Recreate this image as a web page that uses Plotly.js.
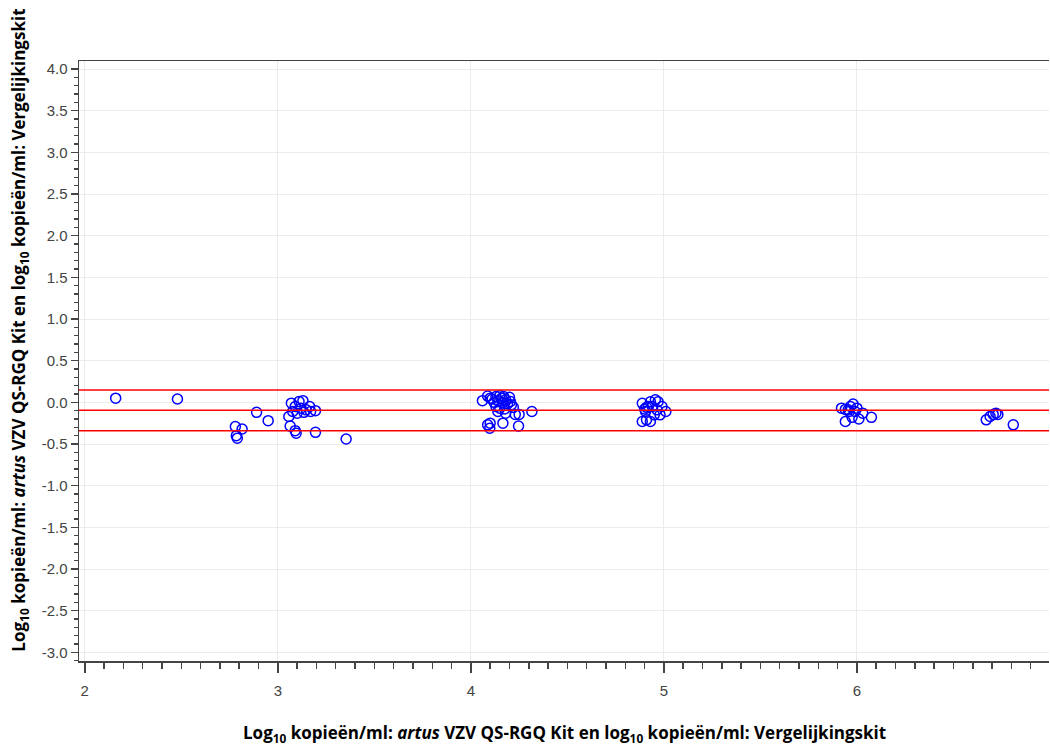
<!DOCTYPE html>
<html>
<head>
<meta charset="utf-8">
<script src="https://cdn.plot.ly/plotly-3.0.1.min.js"></script>
<style>html,body{margin:0;padding:0;background:#fff;}#chart{width:1050px;height:748px;}</style>
</head>
<body>
<div id="chart"></div>
<script>
// Mean of log10 values (x) and difference (y)
var meanLog = [
  2.16, 2.48, 2.78, 2.815, 2.785, 2.79, 2.89, 2.95,
  3.057, 3.064, 3.09, 3.095, 3.195, 3.354, 3.07, 3.11, 3.13, 3.09, 3.12, 3.147, 3.165, 3.195, 3.077, 3.10, 3.17, 3.135,
  4.06, 4.087, 4.11, 4.12, 4.13, 4.14, 4.15, 4.16, 4.165, 4.17, 4.18, 4.19, 4.20, 4.205, 4.21, 4.13, 4.15, 4.22, 4.18, 4.23, 4.25, 4.316, 4.14, 4.087, 4.10, 4.098, 4.166, 4.247, 4.10, 4.175,
  4.888, 4.905, 4.91, 4.888, 4.93, 4.93, 4.956, 4.97, 4.94, 4.964, 4.99, 5.01, 4.98, 4.95, 4.92, 4.91, 4.90,
  5.94, 5.966, 5.98, 5.96, 5.99, 5.94, 5.975, 6.01, 6.03, 6.075, 6.00, 5.92, 5.955,
  6.67, 6.69, 6.706, 6.72, 6.73, 6.81
];
var diffLog = [
  0.05, 0.04, -0.29, -0.32, -0.40, -0.43, -0.12, -0.22,
  -0.17, -0.285, -0.34, -0.37, -0.36, -0.44, -0.01, 0.01, 0.02, -0.05, -0.07, -0.09, -0.05, -0.10, -0.11, -0.13, -0.11, -0.12,
  0.02, 0.075, 0.04, 0.00, 0.07, 0.02, 0.08, 0.05, 0.00, 0.07, 0.03, -0.02, 0.06, 0.01, -0.03, -0.05, -0.07, -0.06, -0.13, -0.145, -0.145, -0.11, -0.11, -0.27, -0.25, -0.31, -0.25, -0.285, 0.05, -0.08,
  -0.012, -0.11, -0.21, -0.23, -0.23, 0.007, 0.03, 0.007, -0.05, -0.09, -0.05, -0.11, -0.15, -0.15, -0.05, -0.06, -0.08,
  -0.085, -0.05, -0.02, -0.11, -0.11, -0.23, -0.18, -0.20, -0.13, -0.18, -0.07, -0.07, -0.09,
  -0.21, -0.17, -0.145, -0.13, -0.145, -0.27
];
// Reference lines: upper limit, mean difference, lower limit
var refLines = [0.148, -0.096, -0.341];

var yTickVals = [4.0, 3.5, 3.0, 2.5, 2.0, 1.5, 1.0, 0.5, 0.0, -0.5, -1.0, -1.5, -2.0, -2.5, -3.0];
var yTickText = ["4.0", "3.5", "3.0", "2.5", "2.0", "1.5", "1.0", "0.5", "0.0", "-0.5", "-1.0", "-1.5", "-2.0", "-2.5", "-3.0"];
var xTickVals = [2, 3, 4, 5, 6];
var xTickText = ["2", "3", "4", "5", "6"];

var xTitle = "Log<sub>10</sub> kopieën/ml: <i>artus</i> VZV QS-RGQ Kit en log<sub>10</sub> kopieën/ml: Vergelijkingskit";
var yTitle = "Log<sub>10</sub> kopieën/ml: <i>artus</i> VZV QS-RGQ Kit en log<sub>10</sub> kopieën/ml: Vergelijkingskit";

var trace = {
  x: meanLog, y: diffLog, type: 'scatter', mode: 'markers',
  marker: {symbol: 'circle-open', size: 10, color: '#0000ff', line: {width: 1.5, color: '#0000ff'}},
  hoverinfo: 'x+y', showlegend: false
};

var shapes = refLines.map(function (v) {
  return {type: 'line', xref: 'paper', yref: 'y', x0: 0, x1: 1, y0: v, y1: v,
          line: {color: '#ff0000', width: 1.5}};
});

var titleFont = {family: 'Open Sans, sans-serif', size: 17, color: '#000', weight: 'bold'};
var tickFont = {family: 'Liberation Sans, Arial, sans-serif', size: 15, color: '#444'};

var layout = {
  width: 1050, height: 748,
  margin: {l: 79, r: 1, t: 61, b: 87},
  paper_bgcolor: '#fff', plot_bgcolor: '#fff',
  showlegend: false,
  xaxis: {
    range: [1.97, 6.995], tickmode: 'array', tickvals: xTickVals, ticktext: xTickText,
    ticks: 'outside', ticklen: 10, tickwidth: 1.5, tickcolor: '#444',
    showline: true, linecolor: '#444', linewidth: 1.5, mirror: true,
    showgrid: true, gridcolor: '#ebebeb', gridwidth: 1, zeroline: false,
    tickfont: tickFont, ticklabelstandoff: 5,
    minor: {dtick: 0.1, tick0: 0, ticks: 'outside', ticklen: 6, tickwidth: 1.5, tickcolor: '#444', showgrid: false}
  },
  yaxis: {
    range: [-3.104, 4.096], tickmode: 'array', tickvals: yTickVals, ticktext: yTickText,
    ticks: 'outside', ticklen: 7, tickwidth: 1.5, tickcolor: '#444',
    showline: true, linecolor: '#444', linewidth: 1.5, mirror: false,
    showgrid: true, gridcolor: '#ebebeb', gridwidth: 1, zeroline: false,
    tickfont: tickFont,
    minor: {dtick: 0.1, tick0: 0, ticks: 'outside', ticklen: 4, tickwidth: 1.5, tickcolor: '#444', showgrid: false}
  },
  shapes: shapes,
  annotations: [
    {text: xTitle, xref: 'paper', yref: 'paper', x: 0.5, y: -0.12, xanchor: 'center', yanchor: 'middle',
     showarrow: false, font: titleFont},
    {text: yTitle, xref: 'paper', yref: 'paper', x: -0.061, y: 0.552, xanchor: 'center', yanchor: 'middle',
     textangle: -90, showarrow: false, font: titleFont}
  ]
};

Plotly.newPlot('chart', [trace], layout, {displayModeBar: false, staticPlot: true});
</script>
</body>
</html>
